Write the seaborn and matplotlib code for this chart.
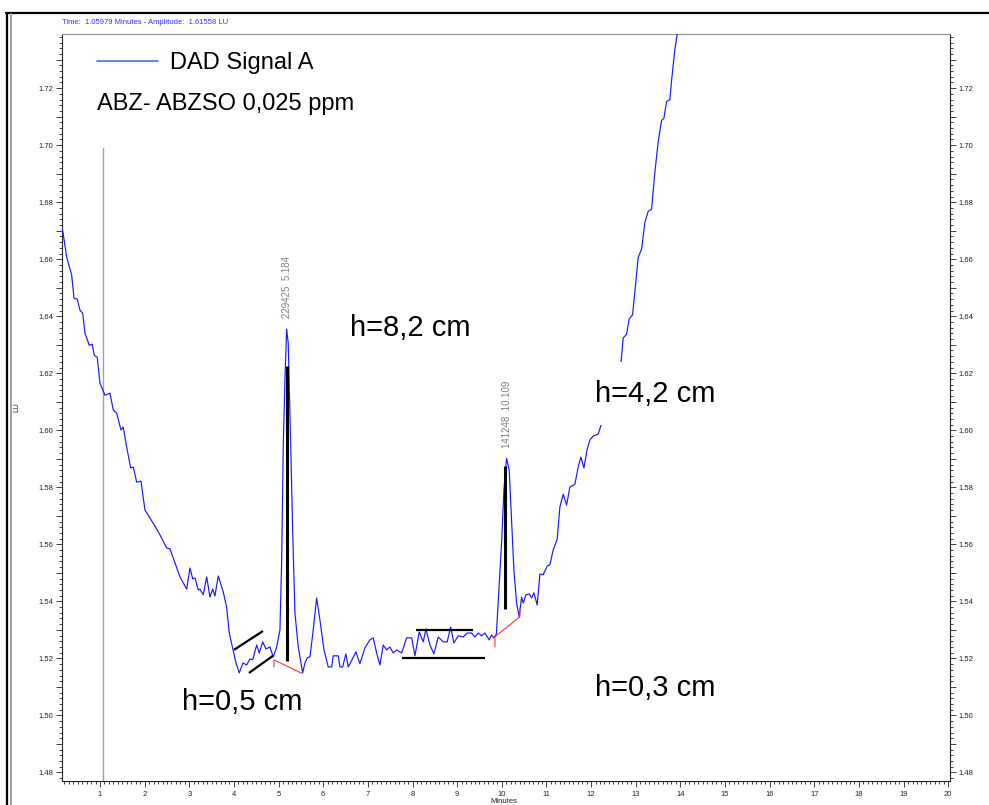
import numpy as np
import pandas as pd
import matplotlib
matplotlib.use("Agg")
import matplotlib.pyplot as plt
from matplotlib.ticker import MultipleLocator, FuncFormatter
from matplotlib.lines import Line2D
import seaborn as sns

# ---------------- data ----------------
minutes = [0.159, 0.253, 0.365, 0.417, 0.490, 0.551, 0.611, 0.663, 0.759, 0.826,
           0.871, 0.938, 0.999, 1.111, 1.223, 1.297, 1.373, 1.469, 1.521, 1.597,
           1.686, 1.745, 1.821, 1.917, 2.007, 2.119, 2.231, 2.343, 2.493, 2.567,
           2.679, 2.791, 2.941, 3.015, 3.075, 3.127, 3.200, 3.238, 3.312, 3.389,
           3.462, 3.523, 3.574, 3.648, 3.760, 3.836, 3.895, 3.984, 4.045, 4.119,
           4.202, 4.284, 4.358, 4.419, 4.508, 4.567, 4.643, 4.717, 4.806, 4.880,
           4.956, 5.030, 5.068, 5.104, 5.142, 5.180, 5.216, 5.254, 5.315, 5.366,
           5.440, 5.539, 5.590, 5.642, 5.702, 5.776, 5.852, 5.926, 6.016, 6.112,
           6.188, 6.224, 6.336, 6.374, 6.434, 6.508, 6.560, 6.643, 6.732, 6.822,
           6.934, 7.046, 7.120, 7.196, 7.270, 7.344, 7.420, 7.494, 7.568, 7.644,
           7.756, 7.868, 7.980, 8.054, 8.150, 8.240, 8.300, 8.390, 8.479, 8.576,
           8.688, 8.777, 8.853, 8.927, 9.023, 9.135, 9.225, 9.324, 9.397, 9.471,
           9.548, 9.621, 9.718, 9.771, 9.823, 9.879, 9.919, 9.995, 10.047, 10.107,
           10.166, 10.219, 10.271, 10.331, 10.390, 10.443, 10.479, 10.540, 10.614, 10.667,
           10.719, 10.793, 10.853, 10.927, 11.017, 11.077, 11.151, 11.241, 11.301, 11.375,
           11.451, 11.525, 11.637, 11.711, 11.771, 11.839, 11.913, 11.973, 12.047, 12.159,
           12.667, 12.719, 12.795, 12.854, 12.929, 12.981, 13.055, 13.131, 13.205, 13.279,
           13.355, 13.429, 13.503, 13.579, 13.630, 13.691, 13.765, 13.803, 13.877, 13.928,
           13.989]
signal_lu = [1.6705, 1.6607, 1.6544, 1.6463, 1.6460, 1.6421, 1.6411, 1.6341, 1.6298, 1.6302,
             1.6263, 1.6256, 1.6165, 1.6123, 1.6130, 1.6071, 1.6060, 1.6001, 1.6011, 1.5941,
             1.5868, 1.5871, 1.5818, 1.5822, 1.5720, 1.5692, 1.5664, 1.5633, 1.5587, 1.5584,
             1.5535, 1.5486, 1.5443, 1.5517, 1.5479, 1.5482, 1.5440, 1.5443, 1.5423, 1.5486,
             1.5415, 1.5443, 1.5419, 1.5489, 1.5433, 1.5380, 1.5289, 1.5226, 1.5184, 1.5149,
             1.5184, 1.5177, 1.5198, 1.5195, 1.5247, 1.5219, 1.5258, 1.5233, 1.5240, 1.5205,
             1.5240, 1.5300, 1.5535, 1.5941, 1.6176, 1.6355, 1.6305, 1.6060, 1.5650, 1.5359,
             1.5240, 1.5149, 1.5184, 1.5202, 1.5205, 1.5300, 1.5412, 1.5335, 1.5230, 1.5170,
             1.5170, 1.5209, 1.5209, 1.5170, 1.5170, 1.5216, 1.5170, 1.5195, 1.5223, 1.5181,
             1.5237, 1.5265, 1.5272, 1.5219, 1.5177, 1.5247, 1.5230, 1.5240, 1.5219, 1.5230,
             1.5219, 1.5272, 1.5272, 1.5209, 1.5293, 1.5258, 1.5303, 1.5247, 1.5216, 1.5275,
             1.5258, 1.5258, 1.5310, 1.5254, 1.5279, 1.5275, 1.5289, 1.5289, 1.5275, 1.5289,
             1.5279, 1.5289, 1.5265, 1.5282, 1.5272, 1.5286, 1.5394, 1.5605, 1.5790, 1.5902,
             1.5860, 1.5685, 1.5510, 1.5394, 1.5345, 1.5415, 1.5394, 1.5423, 1.5426, 1.5412,
             1.5430, 1.5387, 1.5496, 1.5493, 1.5524, 1.5528, 1.5580, 1.5619, 1.5731, 1.5776,
             1.5738, 1.5801, 1.5811, 1.5871, 1.5906, 1.5868, 1.5934, 1.5966, 1.5980, 1.5987,
             1.6230, 1.6324, 1.6337, 1.6391, 1.6405, 1.6486, 1.6607, 1.6635, 1.6729, 1.6768,
             1.6775, 1.6905, 1.7012, 1.7087, 1.7094, 1.7153, 1.7160, 1.7227, 1.7336, 1.7388,
             1.7437]

# integrated peaks: (retention time, area label, label height)
peak_rt = [5.184, 10.109]
peak_area = ["229425", "141248"]
peak_label_y = [1.6393, 1.5938]

# manually drawn height marks (x0, x1, y0, y1)
height_bars_x = [[5.187, 5.187], [10.069, 10.069]]
height_bars_y = [[1.6225, 1.5191], [1.5874, 1.5374]]
noise_lines_x = [[4.001, 4.650], [4.336, 4.873], [8.076, 9.353], [7.762, 9.621]]
noise_lines_y = [[1.5230, 1.5296], [1.5149, 1.5209], [1.5300, 1.5300], [1.5202, 1.5202]]

# integration baselines (red)
baseline_x = [[4.896, 4.896, 5.516], [9.846, 9.846, 10.405, 10.405]]
baseline_y = [[1.5170, 1.5195, 1.5148], [1.5240, 1.5276, 1.5346, 1.5377]]

cursor_x = 1.059
cursor_top = 1.6989

# ---------------- styling ----------------
sns.set_style("white")
plt.rcParams["font.family"] = ["Liberation Sans", "DejaVu Sans"]
plt.rcParams["text.color"] = "black"

W, H = 989, 805
fig = plt.figure(figsize=(W / 100, H / 100), dpi=100)
ax = fig.add_axes([62 / W, 1 - 781 / H, (950 - 62) / W, (781 - 34) / H])

df = pd.DataFrame({"Minutes": minutes, "LU": signal_lu})
sns.lineplot(data=df, x="Minutes", y="LU", ax=ax, color="#1818ff", lw=0.85,
             sort=False, estimator=None, label="DAD Signal A", zorder=3)

ax.set_xlim(0.148, 20.04)
ax.set_ylim(1.477, 1.739)

# cursor line
ax.plot([cursor_x, cursor_x], [cursor_top, 1.40], color="#a0a0a0", lw=1.0, zorder=2)

# manual marks
for xs, ys in zip(height_bars_x, height_bars_y):
    ax.plot(xs, ys, color="black", lw=2.2, zorder=4, solid_capstyle="butt")
for xs, ys in zip(noise_lines_x, noise_lines_y):
    ax.plot(xs, ys, color="black", lw=1.6, zorder=4, solid_capstyle="butt")
for xs, ys in zip(baseline_x, baseline_y):
    ax.plot(xs, ys, color="#ff3030", lw=0.8, zorder=4)

for rt, area, ly in zip(peak_rt, peak_area, peak_label_y):
    ax.text(rt, ly, f"{area}  {rt:.3f}", rotation=90, ha="center", va="bottom",
            fontsize=7, color="#808080", zorder=5)

# ticks
ax.xaxis.set_major_locator(MultipleLocator(1))
ax.xaxis.set_minor_locator(MultipleLocator(0.1))
ax.yaxis.set_major_locator(MultipleLocator(0.01))
ax.yaxis.set_minor_locator(MultipleLocator(0.002))
ax.yaxis.set_major_formatter(FuncFormatter(
    lambda v, p: f"{v:.2f}" if round(v * 100) % 2 == 0 else ""))
ax.xaxis.set_major_formatter(FuncFormatter(lambda v, p: f"{v:.0f}"))
ax.tick_params(axis="both", which="both", direction="out", colors="#222222",
               labelsize=5.5, width=0.6)
ax.tick_params(axis="y", which="major", length=4, left=True, right=True,
               labelleft=True, labelright=True, pad=2)
ax.tick_params(axis="y", which="minor", length=2, left=True, right=True)
ax.tick_params(axis="x", which="major", length=4, bottom=True, top=False, pad=3)
ax.tick_params(axis="x", which="minor", length=2, bottom=True, top=False)
ax.set_xlabel("")
ax.set_ylabel("")
for side in ["left", "bottom", "right"]:
    ax.spines[side].set_color("#222222")
    ax.spines[side].set_linewidth(0.8)
ax.spines["top"].set_color("#909090")
ax.spines["top"].set_linewidth(0.8)

# legend
leg = ax.legend(loc="center left", bbox_to_anchor=(97 / W, 1 - 63 / H),
                bbox_transform=fig.transFigure, frameon=False, fontsize=17,
                handlelength=2.6, handletextpad=0.5, borderpad=0, borderaxespad=0)
leg.get_lines()[0].set_color("#3c78d8")
leg.get_lines()[0].set_linewidth(1.2)
for t in leg.get_texts():
    t.set_color("black")

# large annotation texts
fig.text(97 / W, 1 - 104 / H, "ABZ- ABZSO 0,025 ppm", fontsize=17, ha="left", va="center")
small_box = dict(boxstyle="square,pad=0.05", fc="white", ec="none")
fig.text(410 / W, 1 - 328 / H, "h=8,2 cm", fontsize=21, ha="center", va="center",
         bbox=small_box, zorder=6)
fig.text(655 / W, 1 - 394 / H, "h=4,2 cm", fontsize=21, ha="center", va="center",
         bbox=dict(boxstyle="square,pad=0.6", fc="white", ec="none"), zorder=6)
fig.text(242 / W, 1 - 702 / H, "h=0,5 cm", fontsize=21, ha="center", va="center",
         bbox=small_box, zorder=6)
fig.text(655 / W, 1 - 688 / H, "h=0,3 cm", fontsize=21, ha="center", va="center",
         bbox=small_box, zorder=6)

# header and axis captions
fig.text(62 / W, 1 - 22 / H, "Time:  1.05979 Minutes - Amplitude:  1.61558 LU",
         fontsize=5.5, color="#3030ff", ha="left", va="center")
fig.text(17 / W, 1 - 407 / H, "LU", fontsize=5.5, rotation=90, ha="center",
         va="center", color="#222222")
fig.text(490 / W, 1 - 798 / H, "Minutes", fontsize=5.5, ha="left", va="top",
         color="#222222")

# outer window frame
fig.add_artist(Line2D([6 / W, 1.0], [1 - 13.5 / H, 1 - 13.5 / H], color="black",
                      lw=1.6, transform=fig.transFigure))
fig.add_artist(Line2D([6.5 / W, 6.5 / W], [0, 1 - 13 / H], color="black",
                      lw=1.6, transform=fig.transFigure))
fig.add_artist(Line2D([11 / W, 11 / W], [0, 1 - 14 / H], color="#a0a0a0",
                      lw=1.4, transform=fig.transFigure))

fig.savefig("out.png", dpi=100)
